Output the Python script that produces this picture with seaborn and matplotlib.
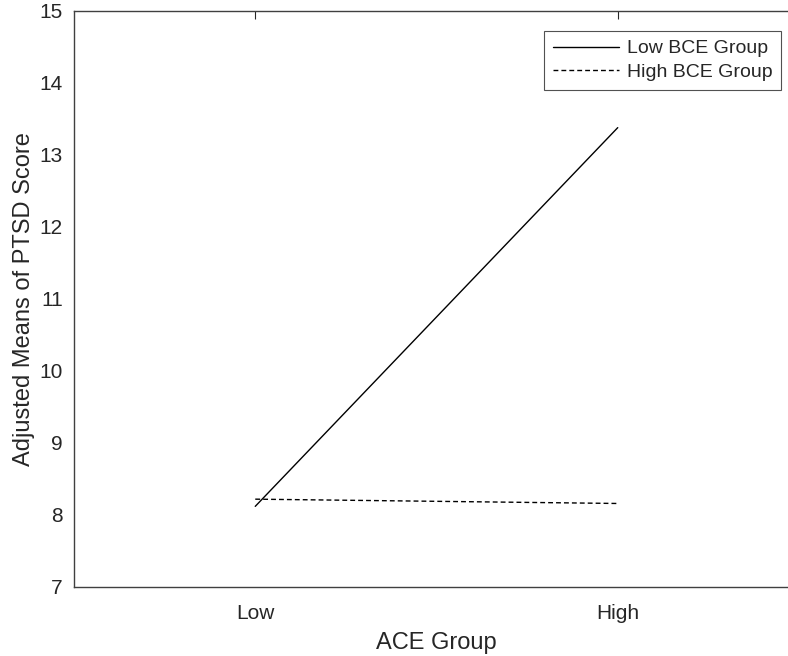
import pandas as pd
import seaborn as sns
import matplotlib.pyplot as plt

ace_groups = ["Low", "High"]
low_bce = [8.12, 13.38]
high_bce = [8.22, 8.16]
series_names = ["Low BCE Group", "High BCE Group"]

df = pd.DataFrame({
    "ACE Group": ace_groups * 2,
    "score": low_bce + high_bce,
    "group": [series_names[0]] * 2 + [series_names[1]] * 2,
})

sns.set_style("white")
plt.rcParams["font.family"] = ["Liberation Sans", "DejaVu Sans"]

W, H = 788, 656
fig = plt.figure(figsize=(W / 100, H / 100), dpi=100)
# axes run a little past the right edge, as in the reference
ax = fig.add_axes([74 / W, (H - 587) / H, 725 / W, 576 / H])

sns.lineplot(data=df, x="ACE Group", y="score", style="group",
             style_order=series_names, dashes={series_names[0]: "", series_names[1]: (3.5, 2.2)},
             color="black", linewidth=1.0, sort=False, ax=ax)

ax.set_xlim(-0.5, 1.5)
ax.set_ylim(7, 15)
ax.set_yticks(range(7, 16))
ax.set_xlabel("ACE Group", fontsize=17, color="#262626", labelpad=7)
ax.set_ylabel("Adjusted Means of PTSD Score", fontsize=17, color="#262626", labelpad=3)
ax.tick_params(direction="in", length=6, width=0.8, colors="#262626",
               labelsize=15, top=True, right=False)
ax.tick_params(axis="y", pad=8)
ax.tick_params(axis="x", pad=12)
ax.spines["right"].set_visible(False)
for s in ax.spines.values():
    s.set_color("#404040")
    s.set_linewidth(1.0)

leg = ax.legend(loc="upper right", bbox_to_anchor=(781 / W, (H - 31) / H),
                bbox_transform=fig.transFigure, borderaxespad=0, fontsize=14,
                frameon=True, fancybox=False, edgecolor="#262626", handlelength=3.4,
                borderpad=0.45, labelspacing=0.3, handletextpad=0.4)
leg.get_frame().set_linewidth(0.8)

fig.savefig("out.png", dpi=100)
